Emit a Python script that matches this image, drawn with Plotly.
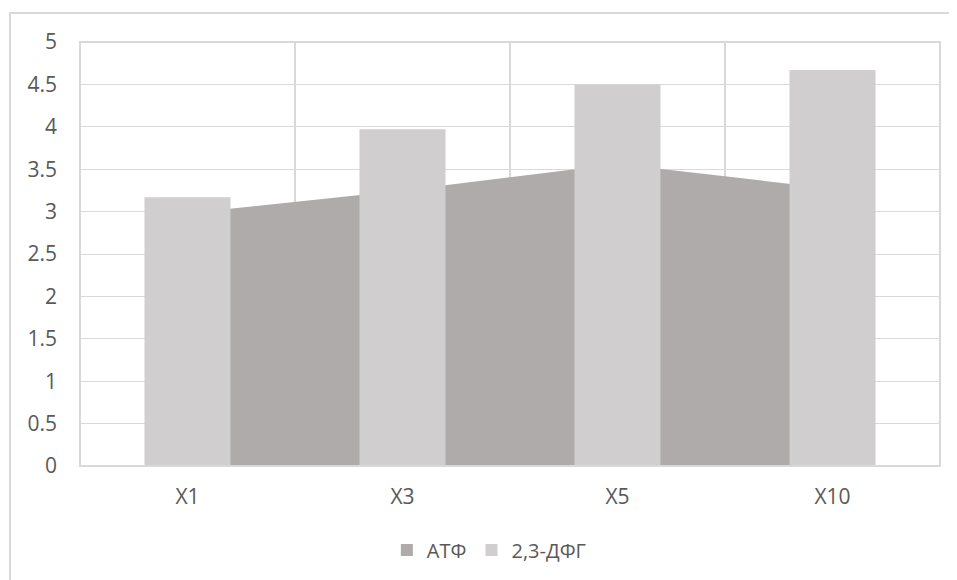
import plotly.graph_objects as go

categories = ["X1", "X3", "X5", "X10"]
atf_values = [2.98, 3.25, 3.56, 3.27]
dpg_values = [3.17, 3.97, 4.50, 4.67]
y_ticks = [0, 0.5, 1, 1.5, 2, 2.5, 3, 3.5, 4, 4.5, 5]
y_tick_labels = ["0", "0.5", "1", "1.5", "2", "2.5", "3", "3.5", "4", "4.5", "5"]

idx = list(range(len(categories)))
font_family = "Open Sans, Liberation Sans, sans-serif"
text_color = "#595959"
grid_color = "#D9D9D9"

fig = go.Figure()

fig.add_trace(go.Scatter(
    x=idx, y=atf_values, name="АТФ", mode="none",
    fill="tozeroy", fillcolor="#AEABAA",
    xaxis="x", yaxis="y", showlegend=False,
))
fig.add_trace(go.Bar(
    x=idx, y=dpg_values, name="2,3-ДФГ", width=0.4,
    marker=dict(color="#D0CECE", line=dict(width=0)),
    xaxis="x2", yaxis="y2", showlegend=True,
))
# legend proxy for the area series (square marker)
fig.add_trace(go.Bar(
    x=[None], y=[None], name="АТФ",
    marker=dict(color="#AEABAA", line=dict(width=0)),
    xaxis="x2", yaxis="y2", showlegend=True,
))

xr = [-0.5, len(categories) - 0.5]
yr = [0, 5]
fig.update_layout(
    width=957, height=580,
    margin=dict(l=72, r=25, t=34, b=122),
    paper_bgcolor="white", plot_bgcolor="white",
    font=dict(family=font_family, size=21, color=text_color),
    xaxis=dict(
        range=xr, tickvals=idx, ticktext=categories,
        showgrid=False, zeroline=False, showline=False,
        ticks="", ticklabelstandoff=16,
        tickfont=dict(size=21),
    ),
    yaxis=dict(
        range=yr, tickvals=y_ticks, ticktext=y_tick_labels,
        showgrid=True, gridcolor=grid_color, gridwidth=1,
        zeroline=False, showline=False, ticks="", ticklabelstandoff=22,
        tickfont=dict(size=21),
    ),
    xaxis2=dict(range=xr, overlaying="x", visible=False),
    yaxis2=dict(range=yr, overlaying="y", visible=False),
    barmode="overlay",
    legend=dict(
        orientation="h", x=0.476, xanchor="center", y=-0.198, yanchor="middle",
        traceorder="reversed", font=dict(size=20, color=text_color),
        itemsizing="constant", itemwidth=30,
    ),
    showlegend=True,
)

# vertical category-boundary gridlines and plot frame
for b in [0.5, 1.5, 2.5]:
    fig.add_shape(type="line", xref="x", yref="paper", x0=b, x1=b, y0=0, y1=1,
                  line=dict(color=grid_color, width=2), layer="below")
fig.add_shape(type="rect", xref="paper", yref="paper", x0=0, x1=1, y0=0, y1=1,
              line=dict(color=grid_color, width=2), layer="above")
# outer chart border
fig.add_shape(type="rect", xref="paper", yref="paper",
              x0=-70 / 860, x1=1.2, y0=-0.5, y1=1 + 29 / 424,
              line=dict(color=grid_color, width=2), layer="below")

fig.write_html("out.html")
